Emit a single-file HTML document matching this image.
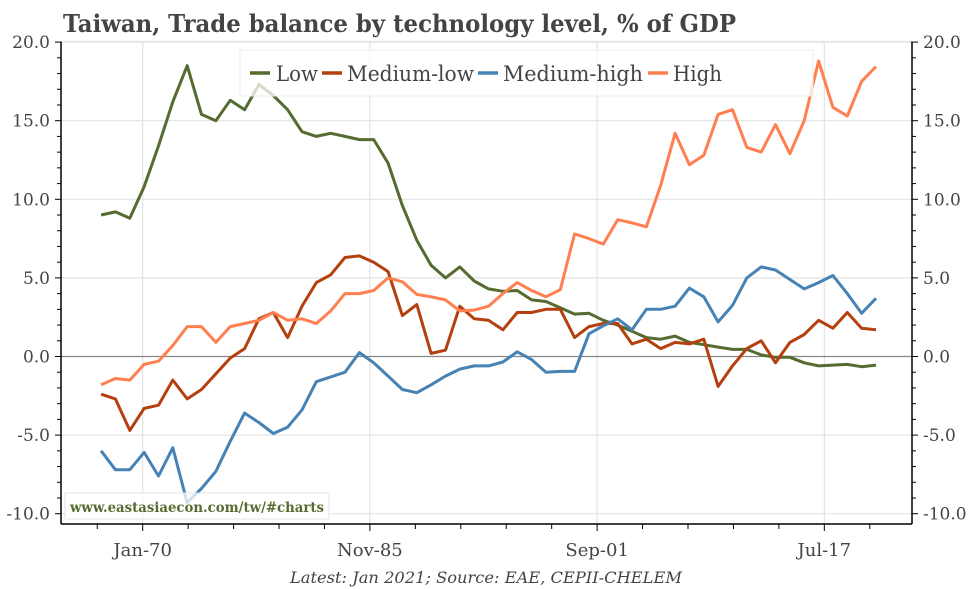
<!DOCTYPE html>
<html><head><meta charset="utf-8"><style>
html,body{margin:0;padding:0;background:#fff;}
svg{display:block;font-family:"DejaVu Serif","Liberation Serif",serif;}
</style></head><body>
<svg id="chart" width="972" height="589" viewBox="0 0 972 589" xmlns="http://www.w3.org/2000/svg">
<text x="63" y="32" font-size="24" font-weight="bold" fill="#444" textLength="673" lengthAdjust="spacingAndGlyphs">Taiwan, Trade balance by technology level, % of GDP</text>
<g id="grid"></g>
<g id="axes"></g>
<g id="series"></g>
<g>
<rect x="240" y="50" width="573" height="46" fill="#fff" fill-opacity="0.75" stroke="#eee"/>
<g><line x1="250" y1="73" x2="270" y2="73" stroke="#556b2f" stroke-width="3.5"/><text x="276" y="81" font-size="21" fill="#444" textLength="42" lengthAdjust="spacingAndGlyphs">Low</text></g>
<g><line x1="322" y1="73" x2="342" y2="73" stroke="#b5400f" stroke-width="3.5"/><text x="347" y="81" font-size="21" fill="#444" textLength="127" lengthAdjust="spacingAndGlyphs">Medium-low</text></g>
<g><line x1="478" y1="73" x2="498" y2="73" stroke="#4682b4" stroke-width="3.5"/><text x="503" y="81" font-size="21" fill="#444" textLength="140" lengthAdjust="spacingAndGlyphs">Medium-high</text></g>
<g><line x1="648" y1="73" x2="668" y2="73" stroke="#ff7f50" stroke-width="3.5"/><text x="673" y="81" font-size="21" fill="#444" textLength="49" lengthAdjust="spacingAndGlyphs">High</text></g>
</g>
<g>
<rect x="65" y="493" width="264" height="26" fill="#fff" fill-opacity="0.75" stroke="#e5e5e5"/>
<text x="70" y="512" font-size="14" font-weight="bold" fill="#556b2f" textLength="254" lengthAdjust="spacingAndGlyphs">www.eastasiaecon.com/tw/#charts</text>
</g>
<text x="486" y="583" font-size="16" font-style="italic" fill="#444" text-anchor="middle" textLength="392" lengthAdjust="spacingAndGlyphs">Latest: Jan 2021; Source: EAE, CEPII-CHELEM</text>
</svg>
<script>
const seriesNames = ["Low","Medium-low","Medium-high","High"];
const seriesColors = ["#556b2f","#b5400f","#4682b4","#ff7f50"];
const startYear = 1967.1;
const lowValues = [9.0,9.2,8.8,10.8,13.4,16.2,18.5,15.4,15.0,16.3,15.7,17.3,16.6,15.7,14.3,14.0,14.2,14.0,13.8,13.8,12.3,9.6,7.4,5.8,5.0,5.7,4.8,4.3,4.15,4.2,3.6,3.5,3.1,2.7,2.75,2.3,2.0,1.6,1.2,1.1,1.3,0.9,0.75,0.6,0.45,0.45,0.1,-0.05,-0.05,-0.4,-0.6,-0.55,-0.5,-0.65,-0.55];
const mediumLowValues = [-2.4,-2.7,-4.7,-3.3,-3.1,-1.5,-2.7,-2.1,-1.1,-0.1,0.5,2.4,2.8,1.2,3.2,4.7,5.2,6.3,6.4,6.0,5.4,2.6,3.3,0.2,0.4,3.2,2.4,2.3,1.7,2.8,2.8,3.0,3.0,1.2,1.9,2.1,2.1,0.8,1.1,0.5,0.9,0.8,1.1,-1.9,-0.6,0.5,1.0,-0.4,0.9,1.4,2.3,1.8,2.8,1.8,1.7];
const mediumHighValues = [-6.0,-7.2,-7.2,-6.1,-7.6,-5.8,-9.3,-8.4,-7.3,-5.4,-3.6,-4.2,-4.9,-4.5,-3.4,-1.6,-1.3,-1.0,0.25,-0.4,-1.25,-2.1,-2.3,-1.8,-1.25,-0.8,-0.6,-0.6,-0.35,0.3,-0.2,-1.0,-0.95,-0.95,1.45,1.95,2.4,1.7,3.0,3.0,3.2,4.35,3.8,2.2,3.25,5.0,5.7,5.5,4.9,4.3,4.7,5.15,4.0,2.75,3.7];
const highValues = [-1.8,-1.4,-1.5,-0.5,-0.3,0.7,1.9,1.9,0.9,1.9,2.1,2.3,2.8,2.3,2.4,2.1,2.9,4.0,4.0,4.2,5.0,4.75,3.95,3.8,3.6,2.9,2.95,3.2,4.0,4.7,4.2,3.8,4.25,7.8,7.5,7.15,8.7,8.5,8.25,10.9,14.2,12.2,12.8,15.4,15.7,13.3,13.0,14.75,12.9,15.0,18.8,15.85,15.3,17.5,18.45];
const yTicks = [-10,-5,0,5,10,15,20];
const yTickLabels = ["-10.0","-5.0","0.0","5.0","10.0","15.0","20.0"];
const xTickYears = [1970, 1985.83, 2001.67, 2017.5];
const xTickLabels = ["Jan-70","Nov-85","Sep-01","Jul-17"];

const NS = "http://www.w3.org/2000/svg";
const plotL = 61, plotR = 912, plotB = 524;
function yScale(v){ return 356.5 - v*15.72; }
function xScale(yr){ return 142.7 + (yr-1970)*14.35; }
function mk(tag, attrs, parent){ const e=document.createElementNS(NS,tag); for(const k in attrs) e.setAttribute(k,attrs[k]); parent.appendChild(e); return e; }
const grid=document.getElementById('grid'), axes=document.getElementById('axes'), series=document.getElementById('series');

yTicks.forEach((v,i)=>{
  const y=yScale(v);
  if(v!==0){ const g=mk('line',{x1:plotL,x2:plotR,y1:y,y2:y,stroke:'#e3e3e3','stroke-width':1.2},grid);
    
     }
  const tl=mk('text',{x:50,y:y+6,'font-size':17,fill:'#444','text-anchor':'end'},axes);
  tl.textContent=yTickLabels[i];
  
  
  const tr=mk('text',{x:923,y:y+6,'font-size':17,fill:'#444'},axes);
  tr.textContent=yTickLabels[i];
  
  
});
mk('line',{x1:plotL,x2:plotR,y1:41.5,y2:41.5,stroke:'#e3e3e3','stroke-width':1.2},grid);
for(let v=-10; v<=20; v++){
  const y=yScale(v), len=(v%5===0)?6:4;
  mk('line',{x1:plotL-len,x2:plotL,y1:y,y2:y,stroke:'#000','stroke-width':1},axes);
  mk('line',{x1:plotR,x2:plotR+len,y1:y,y2:y,stroke:'#000','stroke-width':1},axes);
}
xTickYears.forEach((yr,i)=>{
  const x=xScale(yr);
  const g=mk('line',{x1:x,x2:x,y1:41.5,y2:plotB,stroke:'#e3e3e3','stroke-width':1.2},grid);
  
  
  const t=mk('text',{x:x,y:556,'font-size':18,fill:'#444','text-anchor':'middle'},axes);
  t.textContent=xTickLabels[i];
  
  
});
for(let k=-1;k<=16;k++){
  const yr=1970+k*38/12, x=xScale(yr);
  if(x<plotL||x>plotR) continue;
  const len=(k%5===0)?7:5;
  mk('line',{x1:x,x2:x,y1:plotB,y2:plotB+len,stroke:'#000','stroke-width':1},axes);
}
const z=mk('line',{x1:plotL,x2:plotR,y1:yScale(0),y2:yScale(0),stroke:'#888','stroke-width':1.2},grid);


mk('line',{x1:plotL,x2:plotL,y1:41.5,y2:plotB,stroke:'#000','stroke-width':1.5},axes);
mk('line',{x1:plotR,x2:plotR,y1:41.5,y2:plotB,stroke:'#000','stroke-width':1.5},axes);
mk('line',{x1:plotL,x2:plotR,y1:plotB,y2:plotB,stroke:'#000','stroke-width':1.5},axes);

[lowValues,mediumLowValues,mediumHighValues,highValues].forEach((vals,si)=>{
  const pts=vals.map((v,i)=>xScale(startYear+i).toFixed(1)+','+yScale(v).toFixed(1)).join(' ');
  const p=mk('polyline',{points:pts,fill:'none',stroke:seriesColors[si],'stroke-width':3,'stroke-linejoin':'round'},series);
  
  
});
</script>
</body></html>
